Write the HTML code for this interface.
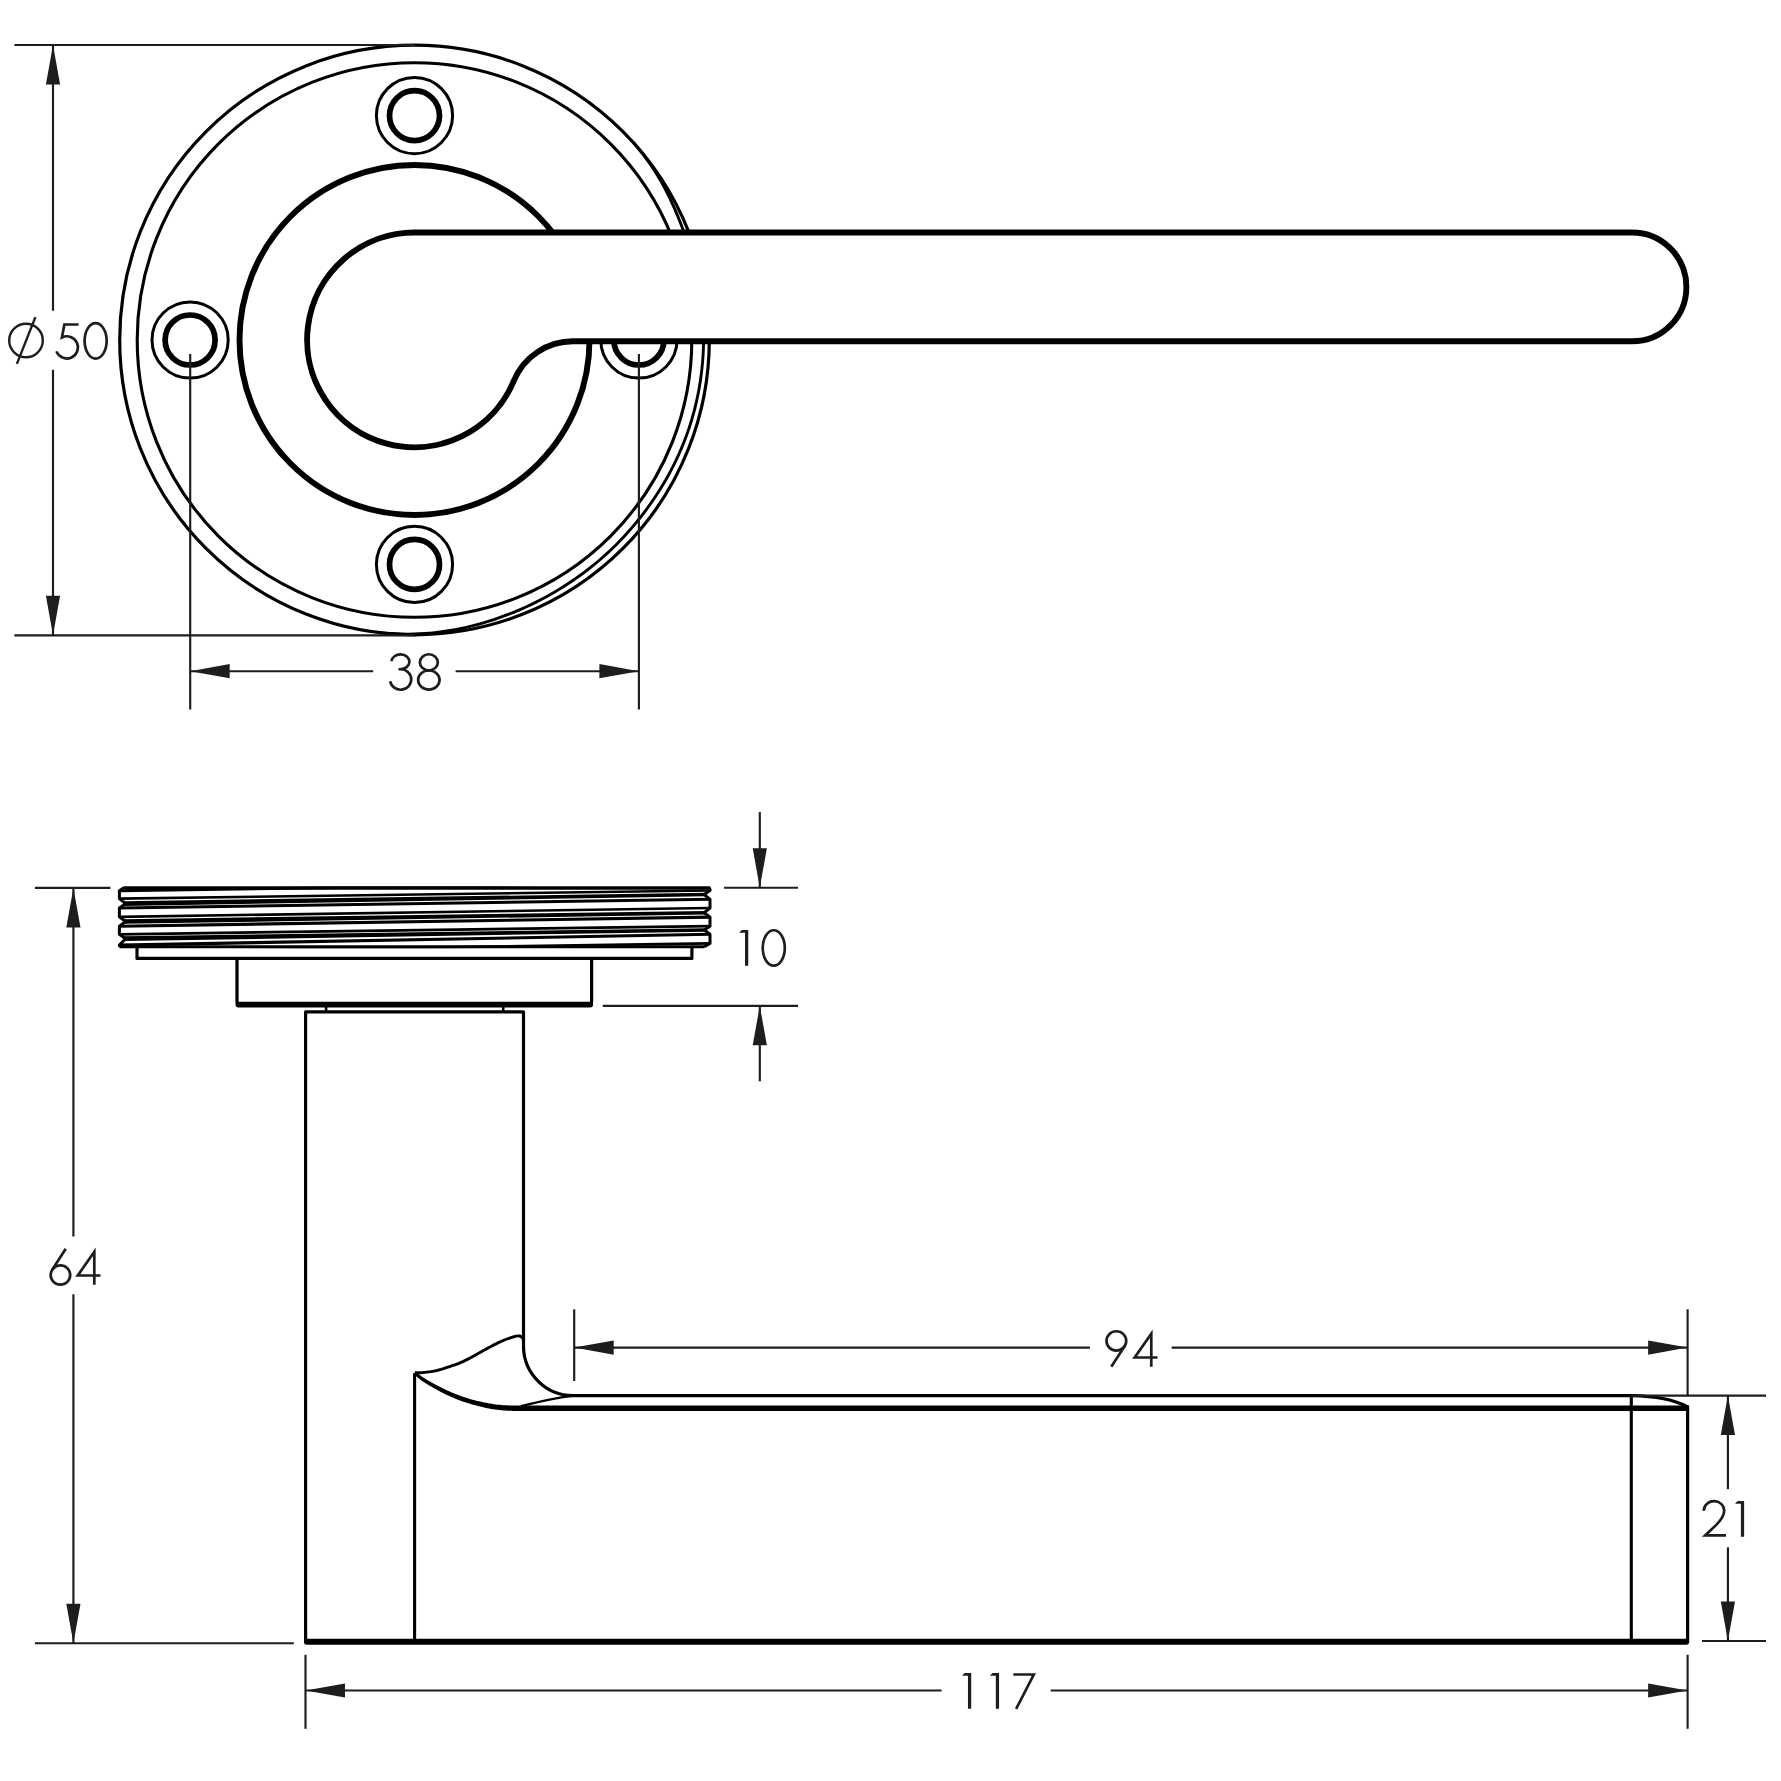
<!DOCTYPE html>
<html lang="en">
<head>
<meta charset="utf-8">
<title>Lever handle on reeded rose - dimension drawing</title>
<style>
html,body{margin:0;padding:0;background:#fff;}
body{width:1781px;height:1781px;overflow:hidden;font-family:"Liberation Sans",sans-serif;}
svg{display:block;}
</style>
</head>
<body>
<svg width="1781" height="1781" viewBox="0 0 1781 1781" role="img" aria-label="Lever handle on reeded rose: dimension drawing">
<g fill="none" stroke="#000">
<circle cx="414.5" cy="340" r="294.8" stroke-width="3.2"/>
<circle cx="414.5" cy="340" r="277.3" stroke-width="3.1"/>
<path d="M633.58 142.74 L636.91 146.66 L640.16 150.65 L643.32 154.7 L646.39 158.83 L649.38 163.01 L652.27 167.25 L655.09 171.54 L657.81 175.88 L660.45 180.28 L662.95 184.75 L665.35 189.28 L667.65 193.84 L669.88 198.44 L672.06 203.06 L674.16 207.7 L676.18 212.37 L678.12 217.07 L680.01 221.79 L681.85 226.52 L683.66 231.25 L685.43 236 L687.12 240.78 L688.73 245.58 L690.26 250.4 L691.72 255.25 L693.09 260.12 L694.38 265.01 L695.6 269.91 L696.73 274.84 L697.77 279.79 L698.73 284.75 L699.61 289.73 L700.4 294.72 L701.11 299.72 L701.73 304.73 L702.26 309.75 L702.71 314.78 L703.07 319.82 L703.33 324.86 L703.51 329.91 L703.6 334.95 L703.6 340 L703.51 345.04 L703.33 350.09 L703.07 355.12 L702.72 360.15 L702.29 365.18 L701.76 370.19 L701.15 375.2 L700.46 380.19 L699.67 385.17 L698.8 390.13 L697.85 395.08 L696.8 400.01 L695.67 404.91 L694.46 409.8 L693.15 414.66 L691.76 419.5 L690.29 424.32 L688.73 429.1 L687.08 433.86 L685.34 438.58 L683.51 443.26 L681.61 447.92 L679.62 452.54 L677.55 457.12 L675.39 461.66 L673.17 466.16 L670.86 470.62 L668.48 475.04 L666.02 479.42 L663.49 483.76 L660.89 488.05 L658.22 492.3 L655.49 496.5 L652.68 500.66 L649.81 504.77 L646.88 508.83 L643.88 512.85 L640.82 516.82 L637.7 520.74 L634.51 524.61 L631.27 528.43 L627.96 532.2 L624.59 535.91 L621.15 539.56 L617.66 543.16 L614.11 546.7 L610.5 550.18 L606.83 553.6 L603.1 556.96 L599.32 560.26 L595.48 563.49 L591.58 566.66 L587.64 569.76 L583.63 572.79 L579.58 575.76 L575.47 578.65 L571.32 581.48 L567.12 584.25 L562.89 586.96 L558.61 589.61 L554.29 592.19 L549.93 594.71 L545.53 597.17 L541.09 599.55 L536.61 601.87 L532.09 604.11 L527.53 606.28 L522.93 608.37 L518.29 610.39 L513.62 612.32 L508.91 614.18 L504.17 615.98 L499.4 617.71 L494.61 619.36 L489.78 620.94 L484.92 622.44 L480.03 623.86 L475.12 625.19 L470.18 626.42 L465.21 627.56 L460.21 628.62 L455.2 629.58 L450.17 630.47 L445.11 631.26 L440.04 631.97 L434.96 632.58 L429.86 633.09 L424.75 633.5 L419.63 633.8 L414.5 634 L409.37 634.1 L404.23 634.09 L399.09 633.99 L393.96 633.8 L388.82 633.5 L383.69 633.1 L378.57 632.6" stroke-width="2.9" stroke-linejoin="round"/>
<circle cx="414.5" cy="115.6" r="38.1" stroke-width="3.0"/>
<circle cx="414.5" cy="115.6" r="25" stroke-width="5.7"/>
<circle cx="414.5" cy="564.4" r="38.1" stroke-width="3.0"/>
<circle cx="414.5" cy="564.4" r="25" stroke-width="5.7"/>
<circle cx="190.1" cy="340" r="38.1" stroke-width="3.0"/>
<circle cx="190.1" cy="340" r="25" stroke-width="5.7"/>
<circle cx="638.9" cy="340" r="38.1" stroke-width="3.0"/>
<circle cx="638.9" cy="340" r="25" stroke-width="5.7"/>
<circle cx="414.5" cy="340" r="175" stroke-width="5.9"/>
</g>
<path d="M414.5 232.5 A107.4 107.4 0 1 0 513.79 380.93 A64.04 64.04 0 0 1 573 341.3 L1632 341.3 A54.4 54.4 0 0 0 1632 232.5 Z" fill="#fff" stroke="#000" stroke-width="5.9" stroke-linejoin="round"/>
<g fill="none" stroke="#000" stroke-linejoin="round" stroke-linecap="butt">
<clipPath id="rim"><rect x="117.4" y="886.4" width="594.6" height="61.8"/></clipPath>
<g clip-path="url(#rim)">
<path d="M119.4 890.8 L710 882" stroke-width="3.0"/>
<path d="M119.4 952.2 L710 943.4" stroke-width="2.7"/>
<path d="M119.4 898.6 L710 890.5" stroke-width="2.7"/>
<path d="M123.6 901.25 L706.2 892.75 L706.2 896.25 L123.6 905.95 Z" fill="#000" stroke="none"/>
<path d="M119.4 908 L710 899.3" stroke-width="3.1"/>
<path d="M119.4 916.8 L710 908" stroke-width="2.7"/>
<path d="M123.6 919.15 L706.2 910.95 L706.2 914.45 L123.6 923.85 Z" fill="#000" stroke="none"/>
<path d="M119.4 926.2 L710 917.1" stroke-width="3.1"/>
<path d="M119.4 934.3 L710 926.2" stroke-width="2.7"/>
<path d="M123.6 936.35 L706.2 928.15 L706.2 931.65 L123.6 941.05 Z" fill="#000" stroke="none"/>
<path d="M119.4 945.1 L710 934.3" stroke-width="3.1"/>
</g>
<path d="M123.9 888 L710 888" stroke-width="3.4"/>
<path d="M119.4 946.8 L704.5 946.8" stroke-width="3.1"/>
<path d="M124.2 887.4 L119.4 890.8 L119.4 898.6 L125.6 903.6 L119.4 908 L119.4 916.8 L125.6 921.5 L119.4 926.2 L119.4 934.3 L125.6 938.7 L119.4 945.1 L119.4 946.8" stroke-width="3.0"/>
<path d="M709 887.6 L710 889.2 L710 890.5 L704.2 894.5 L710 899.3 L710 908 L704.2 912.7 L710 917.1 L710 926.2 L704.2 929.9 L710 934.3 L710 943.4 L704.2 946.8" stroke-width="3.0"/>
<path d="M137 946.8 V958.4 H691.9 V946.8" stroke-width="3.2"/>
<path d="M237 958.4 V1001.5 Q237 1004.6 240 1004.6 M588.6 1004.6 Q591.6 1004.6 591.6 1001.5 V958.4" stroke-width="3.2"/>
<path d="M238.5 1004.6 H590.1" stroke-width="5.9" stroke-linecap="round"/>
<path d="M326.1 1005 V1012 M503.2 1005 V1012" stroke-width="2.6"/>
<path d="M305.6 1641.9 V1011.9 H523.5 V1346.1 A49.5 49.5 0 0 0 573 1395.6 H1631.3 C1655 1396 1676 1400.5 1687.6 1406.8 V1641.9" stroke-width="3.2"/>
<path d="M414.6 1373.2 V1641.9 M1631.3 1395.6 V1641.9" stroke-width="3.1"/>
<path d="M306.9 1641.8 H1686.2" stroke-width="6.0" stroke-linecap="round"/>
<path d="M414.8 1372.8 L416.8 1372.82 L418.81 1372.77 L420.81 1372.68 L422.82 1372.54 L424.82 1372.35 L426.82 1372.13 L428.83 1371.88 L430.83 1371.61 L432.84 1371.29 L434.84 1370.92 L436.84 1370.48 L438.85 1369.97 L440.85 1369.41 L442.86 1368.79 L444.86 1368.15 L446.87 1367.48 L448.87 1366.81 L450.87 1366.15 L452.88 1365.48 L454.88 1364.79 L456.89 1364.06 L458.89 1363.29 L460.89 1362.46 L462.9 1361.58 L464.9 1360.64 L466.91 1359.65 L468.91 1358.63 L470.91 1357.56 L472.92 1356.48 L474.92 1355.37 L476.93 1354.24 L478.93 1353.11 L480.93 1351.98 L482.94 1350.85 L484.94 1349.73 L486.95 1348.62 L488.95 1347.53 L490.96 1346.45 L492.96 1345.4 L494.96 1344.37 L496.97 1343.37 L498.97 1342.41 L500.98 1341.49 L502.98 1340.61 L504.98 1339.77 L506.99 1338.99 L508.99 1338.27 L511 1337.6 L513 1337 C516 1336 518.2 1335.7 519.6 1336 C521.4 1336.4 522.8 1337.6 523.5 1339.6" stroke-width="2.9"/>
<path d="M415.79 1371.84 L417.81 1373.47 L419.78 1375 L421.72 1376.44 L423.66 1377.77 L425.61 1379.01 L427.56 1380.19 L429.52 1381.31 L431.49 1382.4 L433.46 1383.48 L435.43 1384.55 L437.39 1385.59 L439.36 1386.62 L441.32 1387.61 L443.28 1388.59 L445.24 1389.53 L447.2 1390.45 L449.15 1391.33 L451.11 1392.19 L453.06 1393.02 L455.02 1393.82 L456.97 1394.59 L458.92 1395.33 L460.87 1396.04 L462.81 1396.72 L464.76 1397.37 L466.71 1397.99 L468.66 1398.58 L470.6 1399.14 L472.55 1399.68 L474.5 1400.18 L476.45 1400.67 L478.4 1401.13 L480.35 1401.57 L482.3 1401.99 L484.26 1402.4 L486.22 1402.8 L488.16 1403.18 L490.11 1403.54 L492.05 1403.87 L493.98 1404.17 L495.9 1404.43 L497.82 1404.66 L499.75 1404.85 L501.68 1405.01 L503.61 1405.14 L505.54 1405.24 L507.48 1405.32 L509.42 1405.38 L511.36 1405.42 L513.31 1405.45 L515.26 1405.46 L517.22 1405.46 L519.18 1405.45 L521.14 1405.44 L523.11 1405.44 L525.09 1405.43 L527.06 1405.43 L529.04 1405.43 L531.03 1405.45 L1689 1405.45 L1689 1410.95 L530.97 1410.95 L529.02 1410.93 L527.06 1410.93 L525.1 1410.93 L523.13 1410.94 L521.16 1410.94 L519.19 1410.95 L517.21 1410.94 L515.23 1410.93 L513.24 1410.9 L511.25 1410.86 L509.25 1410.8 L507.25 1410.71 L505.25 1410.6 L503.25 1410.46 L501.24 1410.29 L499.23 1410.09 L497.21 1409.86 L495.2 1409.58 L493.18 1409.27 L491.18 1408.92 L489.17 1408.55 L487.18 1408.15 L485.19 1407.72 L483.2 1407.28 L481.22 1406.82 L479.24 1406.34 L477.25 1405.84 L475.26 1405.33 L473.27 1404.78 L471.28 1404.21 L469.29 1403.62 L467.3 1403 L465.3 1402.35 L463.31 1401.67 L461.32 1400.96 L459.33 1400.22 L457.34 1399.44 L455.35 1398.64 L453.36 1397.81 L451.38 1396.95 L449.39 1396.06 L447.41 1395.14 L445.43 1394.19 L443.44 1393.21 L441.46 1392.21 L439.49 1391.18 L437.51 1390.12 L435.53 1389.05 L433.56 1387.95 L431.59 1386.83 L429.62 1385.69 L427.65 1384.52 L425.67 1383.3 L423.69 1382.02 L421.69 1380.65 L419.7 1379.19 L417.7 1377.62 L415.73 1375.89 L413.81 1373.96 Z" fill="#000" stroke="none"/>
<path d="M521 1406.2 C538 1402 550 1398.4 573 1395.8" stroke-width="2.3"/>
</g>
<g fill="none" stroke="#1d1d1b" stroke-width="2.15">
<path d="M14.4 45 L415 45"/>
<path d="M14.4 635.3 L415 635.3"/>
<path d="M53 45 L53 310.8"/>
<path d="M53 369.8 L53 635.3"/>
<path d="M190.2 354 L190.2 709.5"/>
<path d="M638.9 354 L638.9 709.5"/>
<path d="M190.2 671.2 L373.2 671.2"/>
<path d="M455.6 671.2 L638.9 671.2"/>
<path d="M34.9 887.9 L110.4 887.9"/>
<path d="M34.9 1643.2 L293.8 1643.2"/>
<path d="M73.4 887.9 L73.4 1236.6"/>
<path d="M73.4 1294.3 L73.4 1643.2"/>
<path d="M724.1 887.7 L798 887.7"/>
<path d="M602.8 1005.8 L798 1005.8"/>
<path d="M759.8 812.1 L759.8 887.7"/>
<path d="M759.8 1005.8 L759.8 1081.3"/>
<path d="M574.2 1309.3 L574.2 1381"/>
<path d="M1687.6 1309.3 L1687.6 1395.6"/>
<path d="M574.2 1347.6 L1089.9 1347.6"/>
<path d="M1171.6 1347.6 L1687.6 1347.6"/>
<path d="M1631.3 1395.6 L1766 1395.6"/>
<path d="M1702 1641 L1766 1641"/>
<path d="M1727.9 1395.6 L1727.9 1489.2"/>
<path d="M1727.9 1547.3 L1727.9 1641"/>
<path d="M305.5 1654.8 L305.5 1728.8"/>
<path d="M1687.6 1654.8 L1687.6 1728.8"/>
<path d="M305.5 1690.5 L941.6 1690.5"/>
<path d="M1050.7 1690.5 L1687.6 1690.5"/>
</g>
<g fill="#1d1d1b" stroke="none">
<path d="M53 45 L45.9 84.5 L60.1 84.5 Z"/>
<path d="M53 635.3 L45.9 595.8 L60.1 595.8 Z"/>
<path d="M190.2 671.2 L229.7 664.1 L229.7 678.3 Z"/>
<path d="M638.9 671.2 L599.4 664.1 L599.4 678.3 Z"/>
<path d="M73.4 887.9 L66.3 927.4 L80.5 927.4 Z"/>
<path d="M73.4 1643.2 L66.3 1603.7 L80.5 1603.7 Z"/>
<path d="M759.8 887.7 L752.7 848.2 L766.9 848.2 Z"/>
<path d="M759.8 1005.8 L752.7 1045.3 L766.9 1045.3 Z"/>
<path d="M574.2 1347.6 L613.7 1340.5 L613.7 1354.7 Z"/>
<path d="M1687.6 1347.6 L1648.1 1340.5 L1648.1 1354.7 Z"/>
<path d="M1727.9 1395.6 L1720.8 1435.1 L1735 1435.1 Z"/>
<path d="M1727.9 1641 L1720.8 1601.5 L1735 1601.5 Z"/>
<path d="M305.5 1690.5 L345 1683.4 L345 1697.6 Z"/>
<path d="M1687.6 1690.5 L1648.1 1683.4 L1648.1 1697.6 Z"/>
</g>
<g fill="none" stroke="#1d1d1b" stroke-width="2.4"><circle cx="26" cy="340.5" r="16.8"/><path d="M16.9 363.9 L35.4 317.1"/></g>
<g fill="none" stroke="#1d1d1b" stroke-width="2.7" stroke-linejoin="miter" stroke-miterlimit="4" stroke-linecap="butt">
<g role="img" aria-label="50"><title>50</title>
<g transform="translate(53.6 359.4)"><path d="M25 -34.9 L10.75 -34.9 L8.33 -21.98 A11.1 11.1 0 1 1 2.84 -8.02"/></g>
<g transform="translate(81.6 359.4)"><ellipse cx="14.03" cy="-18.53" rx="11.05" ry="17.7"/></g>
</g>
<g role="img" aria-label="38"><title>38</title>
<g transform="translate(386.85 690.45)"><path d="M4.62 -29.2 A8.98 7.44 0 1 1 13.58 -21.2 L11.6 -21.2 M11.6 -21.2 L13.76 -21.2 A10.6 10.25 0 1 1 3.32 -9.2"/></g>
<g transform="translate(414.85 690.45)"><ellipse cx="14" cy="-28.07" rx="8.98" ry="8.12"/><ellipse cx="14" cy="-10.36" rx="10.7" ry="9.57"/></g>
</g>
<g role="img" aria-label="64"><title>64</title>
<g transform="translate(46.43 1285.5)"><path d="M19.3 -36.8 L5.81 -15.67"/><ellipse cx="14" cy="-10.44" rx="9.8" ry="9.65"/></g>
<g transform="translate(74.43 1285.5)"><path d="M19.88 -0.74 L19.88 -33.69 L3.32 -10.01 L26.06 -10.01"/></g>
</g>
<g role="img" aria-label="10"><title>10</title>
<g transform="translate(732.25 966.5)"><path d="M9.5 -36.4 L16 -36.4 L16 -0.74 L12.76 -0.74 L12.76 -33.85 L6.85 -33.85 Z" fill="#1d1d1b" stroke="none"/></g>
<g transform="translate(759.73 966.5)"><ellipse cx="14.03" cy="-18.53" rx="11.05" ry="17.7"/></g>
</g>
<g role="img" aria-label="94"><title>94</title>
<g transform="translate(1102.36 1367.5)"><ellipse cx="14" cy="-26.6" rx="9.85" ry="9.63"/><path d="M22.19 -21.33 L8.9 -0.7"/></g>
<g transform="translate(1131.4 1367.5)"><path d="M19.88 -0.74 L19.88 -33.69 L3.32 -10.01 L26.06 -10.01"/></g>
</g>
<g role="img" aria-label="21"><title>21</title>
<g transform="translate(1700.13 1537.5)"><path d="M3.72 -26.6 A10.17 9.34 0 1 1 24.05 -26.9 C24.05 -21.94 20.46 -16.91 16.15 -12.6 L5.04 -2.07 L25.85 -2.07"/></g>
<g transform="translate(1728.13 1537.5)"><path d="M9.5 -36.4 L16 -36.4 L16 -0.74 L12.76 -0.74 L12.76 -33.85 L6.85 -33.85 Z" fill="#1d1d1b" stroke="none"/></g>
</g>
<g role="img" aria-label="117"><title>117</title>
<g transform="translate(955.2 1709.48)"><path d="M9.5 -36.4 L16 -36.4 L16 -0.74 L12.76 -0.74 L12.76 -33.85 L6.85 -33.85 Z" fill="#1d1d1b" stroke="none"/></g>
<g transform="translate(983.06 1709.48)"><path d="M9.5 -36.4 L16 -36.4 L16 -0.74 L12.76 -0.74 L12.76 -33.85 L6.85 -33.85 Z" fill="#1d1d1b" stroke="none"/></g>
<g transform="translate(1011 1709.48)"><path d="M2.3 -34.98 L22.8 -34.98 L5.12 -0.59"/></g>
</g>
</g>
</svg>
</body>
</html>
